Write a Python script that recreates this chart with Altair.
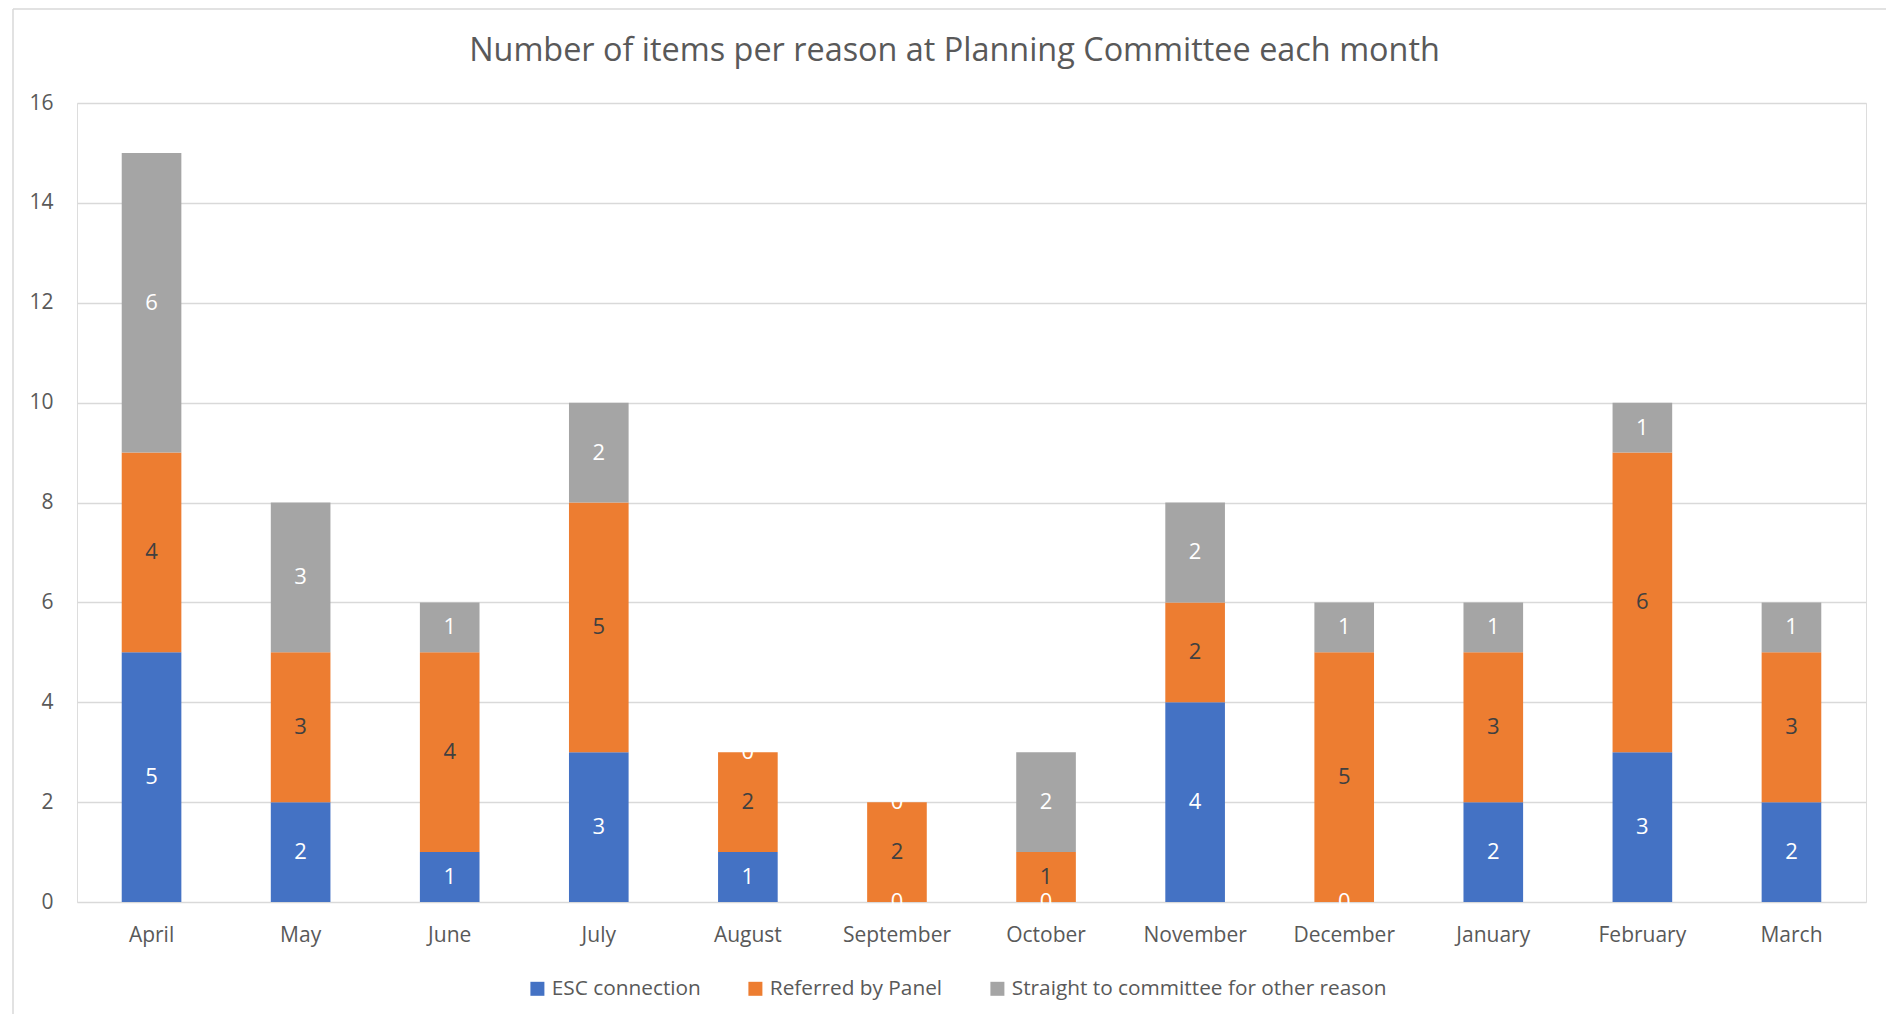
import altair as alt
import pandas as pd

months = ["April", "May", "June", "July", "August", "September", "October",
          "November", "December", "January", "February", "March"]
series = ["ESC connection", "Referred by Panel", "Straight to committee for other reason"]
esc = [5, 2, 1, 3, 1, 0, 0, 4, 0, 2, 3, 2]
referred = [4, 3, 4, 5, 2, 2, 1, 2, 5, 3, 6, 3]
straight = [6, 3, 1, 2, 0, 0, 2, 2, 1, 1, 1, 1]
y_ticks = [0, 2, 4, 6, 8, 10, 12, 14, 16]
colors = ["#4472C4", "#ED7D31", "#A5A5A5"]

rows = []
for vals_idx, vals in enumerate([esc, referred, straight]):
    for m, v in zip(months, vals):
        rows.append({"Month": m, "Reason": series[vals_idx], "Count": v, "order": vals_idx})
df = pd.DataFrame(rows)

FONT = "Open Sans"
W, H = 1789, 799

base = alt.Chart(df)

x_enc = alt.X("Month:N", sort=months, title=None,
              scale=alt.Scale(paddingInner=0.6, paddingOuter=0.3),
              axis=alt.Axis(labelAngle=0, ticks=False, domain=False, labelPadding=22,
                            labelFontSize=21, labelColor="#595959", labelFont=FONT, grid=False))

bars = base.mark_bar().encode(
    x=x_enc,
    y=alt.Y("Count:Q", stack="zero", title=None,
            scale=alt.Scale(domain=[0, 16], nice=False),
            axis=alt.Axis(values=y_ticks, ticks=False, domain=False, labelPadding=24,
                          labelFontSize=21, labelColor="#595959", labelFont=FONT,
                          grid=True, gridColor="#D9D9D9", gridWidth=1.5)),
    color=alt.Color("Reason:N", sort=series,
                    scale=alt.Scale(domain=series, range=colors),
                    legend=alt.Legend(title=None, orient="none", direction="horizontal",
                                      legendX=450, legendY=875, symbolType="square",
                                      symbolSize=196, symbolStrokeWidth=0,
                                      labelFontSize=20.8, labelFont=FONT, labelColor="#595959",
                                      labelOffset=4, columnPadding=44, padding=0,
                                      labelLimit=600)),
    order=alt.Order("order:Q", sort="ascending"),
)

labels = base.transform_stack(
    stack="Count", groupby=["Month"], as_=["y0", "y1"],
    sort=[alt.SortField("order", order="ascending")]
).transform_calculate(
    mid="(datum.y0 + datum.y1) / 2"
).mark_text(fontSize=22, font=FONT, baseline="middle", align="center").encode(
    x=alt.X("Month:N", sort=months),
    y=alt.Y("mid:Q"),
    text=alt.Text("Count:Q"),
    color=alt.condition(alt.datum.Reason == "Referred by Panel",
                        alt.value("#404040"), alt.value("#FFFFFF")),
)

frame_data = alt.Data(values=[{"k": 1}])
frame_top = alt.Chart(frame_data).mark_rule(color="#D9D9D9", strokeWidth=1.5).encode(
    x=alt.value(-64), x2=alt.value(W + 20), y=alt.value(-94))
frame_left = alt.Chart(frame_data).mark_rule(color="#D9D9D9", strokeWidth=1.5).encode(
    x=alt.value(-64), y=alt.value(-94), y2=alt.value(H + 112))

chart = alt.layer(frame_top, frame_left, bars, labels).properties(
    width=W, height=H,
    autosize=alt.AutoSizeParams(type="none"),
    padding={"left": 69, "top": 95, "right": 20, "bottom": 112},
    title=alt.TitleParams("Number of items per reason at Planning Committee each month",
                          fontSize=32.4, font=FONT, fontWeight="normal", color="#595959",
                          anchor="middle", dx=-17, offset=-84.75, baseline="alphabetic"),
).configure_view(stroke=None).configure(background="white")

chart.save("out.html", embed_options={"renderer": "svg", "actions": False})
